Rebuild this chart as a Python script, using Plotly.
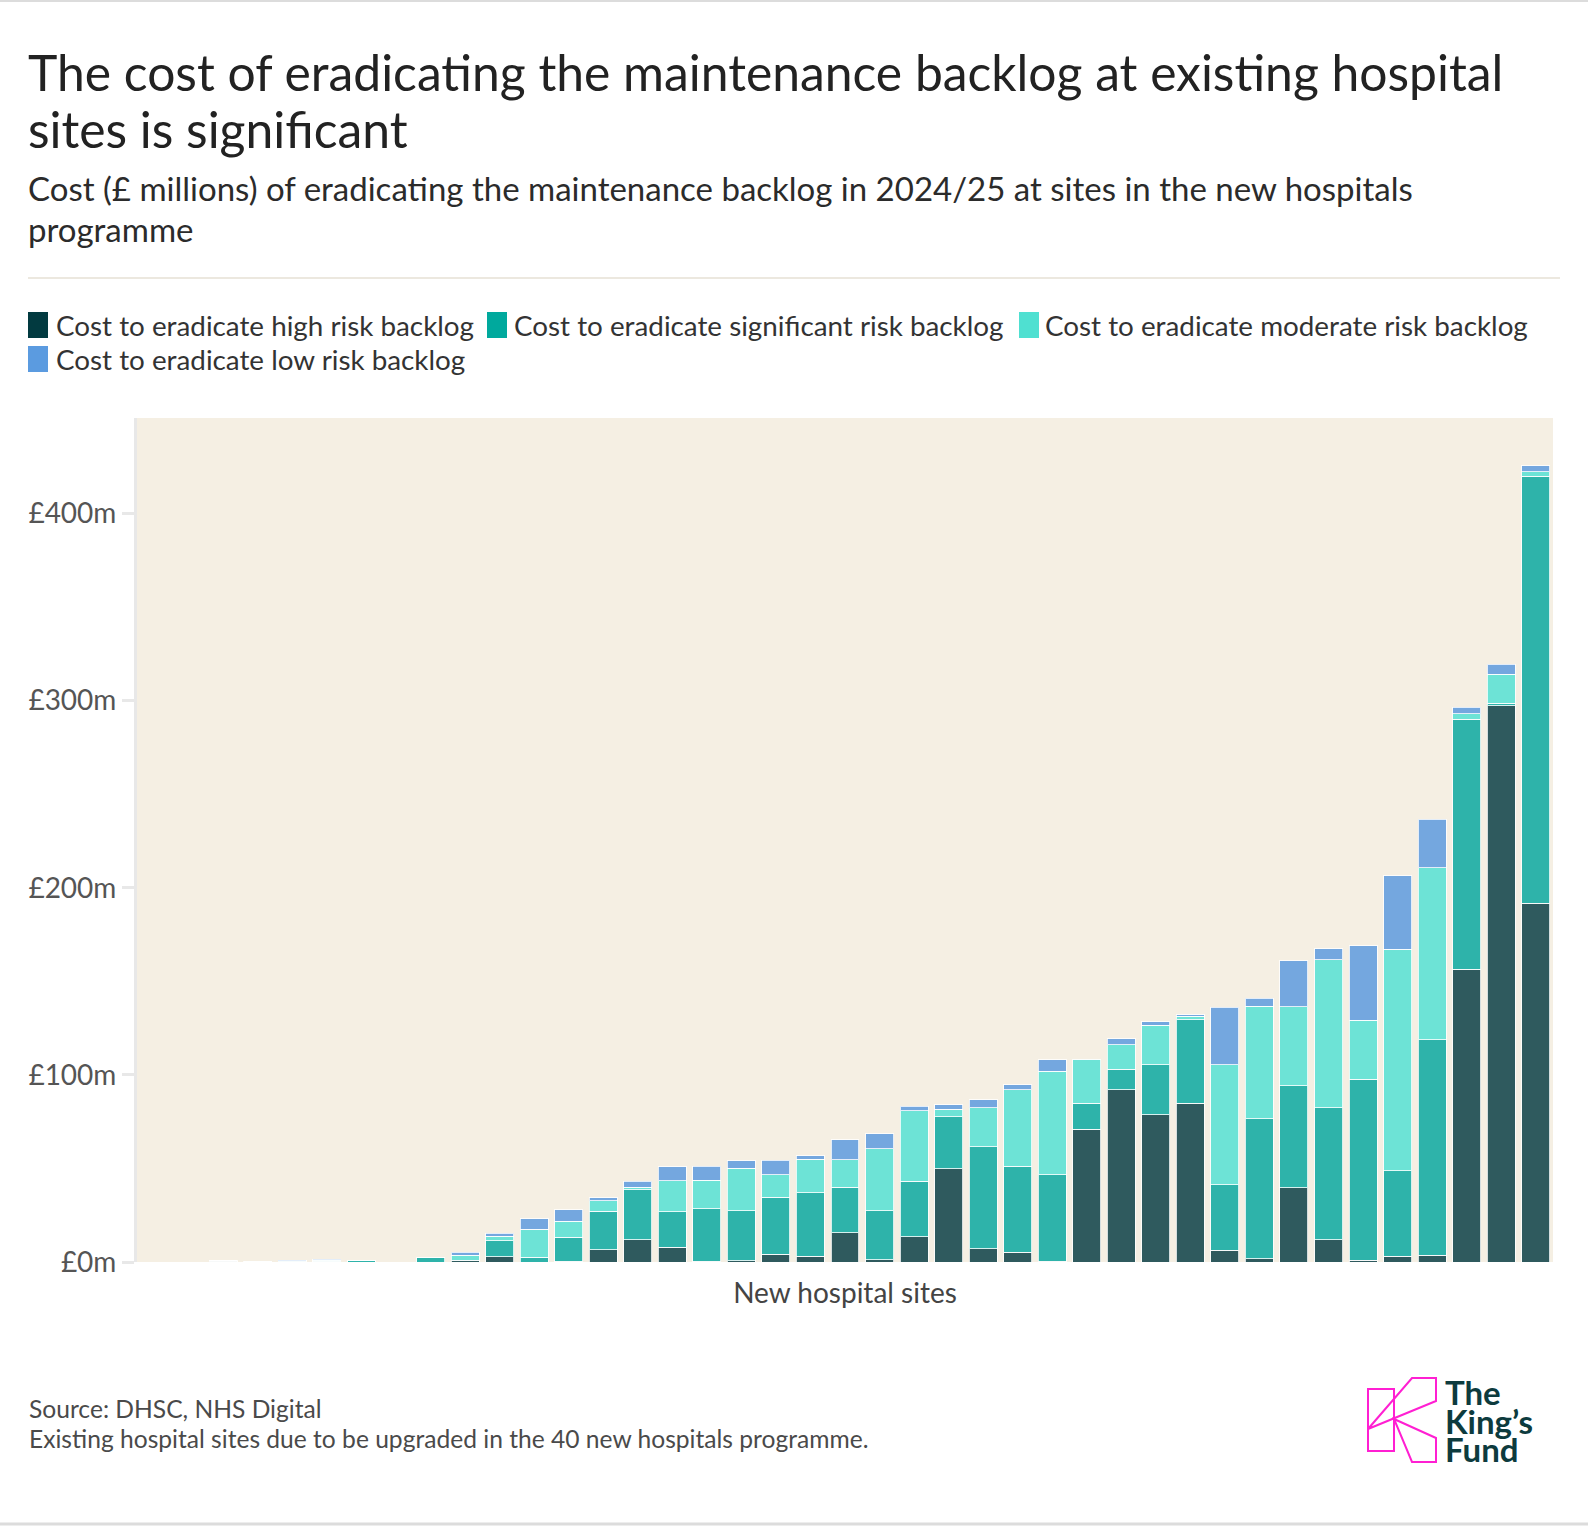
import plotly.graph_objects as go

# ---------------- data ----------------
sites = [f"Site {n}" for n in range(1, 42)]

series_names = [
    "Cost to eradicate high risk backlog",
    "Cost to eradicate significant risk backlog",
    "Cost to eradicate moderate risk backlog",
    "Cost to eradicate low risk backlog",
]

high_risk = [0, 0, 0.4, 0, 0, 0, 0, 0, 0, 0.6,
             2.85, 0, 0.5, 6.6, 11.8, 7.8, 0.3, 0.8, 4.1, 3.0,
             15.5, 1.1, 13.5, 49.7, 7.1, 5.2, 0.4, 70.9, 92.0, 78.6,
             84.7, 6.2, 1.8, 39.8, 12.0, 1.0, 3.0, 3.7, 156.5, 297.2,
             191.7]
significant_risk = [0, 0, 0.2, 0.4, 0.3, 0.3, 0.9, 0, 2.3, 0.3,
                    8.6, 2.5, 12.7, 20.5, 26.7, 19.1, 28.2, 26.7, 30.5, 34.1,
                    24.4, 26.2, 29.6, 28.0, 54.4, 46.1, 46.3, 13.8, 10.9, 26.9,
                    44.7, 35.0, 74.7, 54.5, 70.4, 96.6, 45.8, 115.1, 133.4, 1.5,
                    228.3]
moderate_risk = [0, 0, 0, 0, 0.3, 0.6, 0, 0, 0, 2.8,
                 2.3, 15.0, 8.5, 5.7, 1.5, 16.4, 15.2, 22.6, 12.1, 17.8,
                 14.8, 33.1, 37.8, 3.9, 21.0, 40.7, 55.1, 23.7, 13.3, 21.1,
                 1.8, 64.3, 60.2, 42.1, 79.0, 31.6, 118.4, 91.8, 3.0, 15.3,
                 2.3]
low_risk = [0, 0, 0, 0, 0.4, 0.6, 0, 0, 0, 1.6,
            1.5, 5.7, 6.1, 1.6, 3.1, 7.5, 7.6, 4.1, 7.8, 2.0,
            10.7, 8.2, 2.2, 2.5, 4.3, 2.8, 6.2, 0, 3.1, 1.7,
            0.9, 30.5, 4.3, 24.7, 5.9, 39.9, 39.3, 26.0, 3.5, 5.4,
            3.2]

y_ticks = [0, 100, 200, 300, 400]
y_tick_labels = ["£0m", "£100m", "£200m", "£300m", "£400m"]

# ---------------- styling ----------------
bar_colors = ["#2f5a5e", "#2eb3aa", "#6de3d6", "#74a7df"]
legend_colors = ["#023a40", "#00a99d", "#4fe0d1", "#5b9be0"]
FONT = "Lato"

W_FIG, H_FIG = 1588, 1526
L, R, T, B = 137, 1553, 418, 1262
PW, PH = R - L, B - T


def px(x):
    return (x - L) / PW


def py(y):
    return (B - y) / PH


fig = go.Figure()
for name, vals, col in zip(series_names,
                           [high_risk, significant_risk, moderate_risk, low_risk],
                           bar_colors):
    fig.add_trace(go.Bar(
        x=sites, y=vals, name=name, showlegend=False,
        marker=dict(color=col, line=dict(color="rgba(255,255,255,0.8)", width=1)),
    ))

annotations = []
shapes = []

# Title & subtitle
for text, yc, size, col in [
    ("The cost of eradicating the maintenance backlog at existing hospital", 72, 49.8, "#222222"),
    ("sites is significant", 129, 49.8, "#222222"),
    ("Cost (£ millions) of eradicating the maintenance backlog in 2024/25 at sites in the new hospitals", 188, 33, "#2b2b2b"),
    ("programme", 229, 33, "#2b2b2b"),
]:
    annotations.append(dict(text=text, xref="paper", yref="paper", x=px(26), y=py(yc),
                            xanchor="left", yanchor="middle", showarrow=False,
                            font=dict(family=FONT, size=size, color=col)))

# Custom legend
legend_pos = [(28, 54, 325), (487, 512, 325), (1019, 1043, 325), (28, 54, 359)]
for (sx, tx, yc), name, col in zip(legend_pos, series_names, legend_colors):
    x0, x1, y0, y1 = px(sx), px(sx + 20), py(yc + 13), py(yc - 13)
    shapes.append(dict(type="rect", xref="paper", yref="paper", x0=x0, x1=x1, y0=y0, y1=y1,
                       fillcolor=col, line=dict(width=0)))
    annotations.append(dict(text=name, xref="paper", yref="paper", x=px(tx), y=py(yc),
                            xanchor="left", yanchor="middle", showarrow=False,
                            font=dict(family=FONT, size=27.8, color="#333333")))

# Source notes
for text, yc in [("Source: DHSC, NHS Digital", 1408),
                 ("Existing hospital sites due to be upgraded in the 40 new hospitals programme.", 1438)]:
    annotations.append(dict(text=text, xref="paper", yref="paper", x=px(27), y=py(yc),
                            xanchor="left", yanchor="middle", showarrow=False,
                            font=dict(family=FONT, size=24.6, color="#4a4a4a")))

# Logo text (one block, tight line spacing)
logo_lines = ["The", "King’s", "Fund"]
logo_text = "<br>".join(f"<b><span style='font-size:33px'>{t}</span></b>" for t in logo_lines)
annotations.append(dict(text=logo_text, xref="paper", yref="paper", x=px(1443), y=py(1420),
                        xanchor="left", yanchor="middle", align="left", showarrow=False,
                        font=dict(family=FONT, size=22, color="#0d3b3e")))

# Logo mark (pink K)
pink = "#ff1fd2"
shapes.append(dict(type="rect", xref="paper", yref="paper", x0=px(1368), x1=px(1394),
                   y0=py(1451), y1=py(1389), line=dict(color=pink, width=2)))


def path(points):
    s = "M " + " L ".join(f"{px(x)},{py(y)}" for x, y in points) + " Z"
    return s


shapes.append(dict(type="path", xref="paper", yref="paper",
                   path=path([(1368, 1429), (1412, 1378), (1436, 1378), (1436, 1401)]),
                   line=dict(color=pink, width=2)))
shapes.append(dict(type="path", xref="paper", yref="paper",
                   path=path([(1394, 1419), (1436, 1438), (1436, 1462), (1412, 1462)]),
                   line=dict(color=pink, width=2)))

# Separator lines
shapes.append(dict(type="line", xref="paper", yref="paper", x0=px(28), x1=px(1560),
                   y0=py(278), y1=py(278), line=dict(color="#ece8df", width=2)))
shapes.append(dict(type="line", xref="paper", yref="paper", x0=px(0), x1=px(1588),
                   y0=py(1), y1=py(1), line=dict(color="#dcdcdc", width=2)))
shapes.append(dict(type="line", xref="paper", yref="paper", x0=px(0), x1=px(1588),
                   y0=py(1524), y1=py(1524), line=dict(color="#dcdcdc", width=3)))

fig.update_layout(
    width=W_FIG, height=H_FIG, autosize=False,
    margin=dict(l=L, r=W_FIG - R, t=T, b=H_FIG - B, pad=0),
    barmode="stack", bargap=0.19,
    paper_bgcolor="white", plot_bgcolor="#f5efe3",
    font=dict(family=FONT),
    showlegend=False,
    annotations=annotations, shapes=shapes,
    xaxis=dict(showticklabels=False, ticks="", showgrid=False, showline=False, zeroline=False,
               title=dict(text="New hospital sites", standoff=21,
                          font=dict(family=FONT, size=28, color="#444444"))),
    yaxis=dict(range=[0, 451], tickvals=y_ticks, ticktext=y_tick_labels,
               showgrid=False, zeroline=False,
               showline=True, linecolor="#e8e8e8", linewidth=3,
               ticks="outside", ticklen=12, tickwidth=3, tickcolor="#e8e8e8",
               tickfont=dict(family=FONT, size=28, color="#555555")),
)

fig.write_html("out.html")
